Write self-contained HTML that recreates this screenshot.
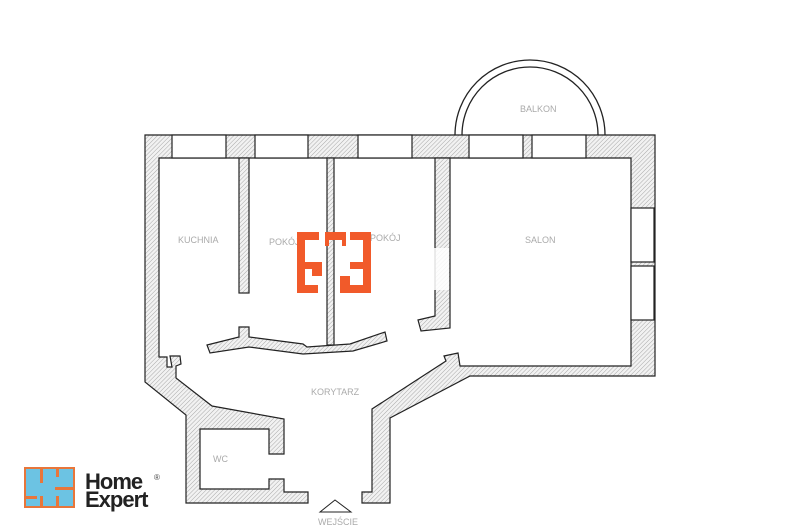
<!DOCTYPE html>
<html><head><meta charset="utf-8"><style>
html,body{margin:0;padding:0;background:#fff;}
svg{display:block}
text{font-family:"Liberation Sans",sans-serif;fill:#aaa;font-size:9px}
</style></head><body>
<svg width="800" height="526" viewBox="0 0 800 526" xmlns="http://www.w3.org/2000/svg">
<defs>
<pattern id="h" width="3" height="3" patternUnits="userSpaceOnUse" patternTransform="rotate(45)">
<rect width="3" height="3" fill="#f2f2f2"/>
<line x1="0" y1="0" x2="0" y2="3" stroke="#a8a8a8" stroke-width="1"/>
</pattern>
</defs>
<rect width="800" height="526" fill="#fff"/>
<path d="M455,135 A75,75 0 0 1 605,135" fill="none" stroke="#222" stroke-width="1.3"/>
<path d="M462,135 A68,68 0 0 1 598,135" fill="none" stroke="#222" stroke-width="1.3"/>
<path d="M308,503 L186,503 L186,415 L145,382 L145,135 L655,135 L655,376 L470,376 L390,418 L390,503 L362,503 L362,492 L372,492 L372,409 L446,361 L444,356 L458,353 L460,366 L631,366 L631,158 L159,158 L159,357 L167,357 L167,367 L172,367 L170,356 L180,356 L181,364 L176,366 L176,378 L212,406 L284,419 L284,454 L269,454 L269,429 L200,429 L200,489 L269,489 L269,479 L284,479 L284,492 L308,492 Z" fill="url(#h)" stroke="#222" stroke-width="1.2"/>
<rect x="239" y="158" width="10" height="135" fill="url(#h)" stroke="#222" stroke-width="1.2"/>
<rect x="327" y="158" width="7" height="187" fill="url(#h)" stroke="#222" stroke-width="1.2"/>
<path d="M435,158 L450,158 L450,328 L421,331 L418,320 L435,316 Z" fill="url(#h)" stroke="#222" stroke-width="1.2"/>
<path d="M207,345 L239,337 L239,327 L249,327 L249,337 L303,344 L307,347 L350,344 L385,332 L387,341 L353,351 L303,354 L249,347 L210,353 Z" fill="url(#h)" stroke="#222" stroke-width="1.2"/>
<g fill="#fff" stroke="#222" stroke-width="1.2">
<rect x="172" y="135" width="54" height="23"/>
<rect x="255" y="135" width="53" height="23"/>
<rect x="358" y="135" width="54" height="23"/>
<rect x="469" y="135" width="54" height="23"/>
<rect x="532" y="135" width="54" height="23"/>
<rect x="631" y="208" width="23" height="54"/>
<rect x="631" y="266" width="23" height="54"/>
</g>
<path d="M320,512 L335,500 L351,512 Z" fill="#fff" stroke="#222" stroke-width="1"/>
<text x="178" y="243">KUCHNIA</text>
<text x="269" y="245">POKÓJ</text>
<text x="370" y="241">POKÓJ</text>
<text x="525" y="243">SALON</text>
<text x="520" y="112">BALKON</text>
<text x="311" y="395">KORYTARZ</text>
<text x="213" y="462">WC</text>
<text x="318" y="525" font-size="8">WEJŚCIE</text>
<rect x="431" y="248" width="18" height="42" fill="#fff" opacity="0.85"/>
<g fill="#f15a2a">
<rect x="297" y="232" width="8" height="61"/>
<rect x="363" y="232" width="8" height="61"/>
<rect x="297" y="232" width="22" height="8"/>
<rect x="325" y="232" width="21" height="8"/>
<rect x="350" y="232" width="21" height="8"/>
<rect x="297" y="285" width="21" height="8"/>
<rect x="340" y="285" width="31" height="8"/>
<rect x="297" y="262" width="25" height="7"/>
<rect x="312" y="262" width="10" height="14"/>
<rect x="350" y="262" width="21" height="7"/>
<rect x="340" y="276" width="10" height="17"/>
<rect x="325" y="232" width="4" height="14"/>
<rect x="342" y="232" width="4" height="14"/>
</g>
<rect x="25" y="468" width="49" height="39" fill="#6cc3e3" stroke="#e8763a" stroke-width="2"/>
<g fill="#e8763a">
<rect x="40" y="467" width="3" height="16"/>
<rect x="56" y="467" width="3" height="10"/>
<rect x="25" y="496" width="12" height="3"/>
<rect x="55" y="487" width="19" height="3"/>
<rect x="40" y="496" width="3" height="12"/>
<rect x="56" y="496" width="3" height="12"/>
</g>
<text x="85" y="489" style="fill:#222;font-size:22px;font-weight:bold;letter-spacing:-1px">Home</text>
<text x="85" y="507" style="fill:#222;font-size:22px;font-weight:bold;letter-spacing:-1px">Expert</text>
<text x="154" y="480" style="fill:#444;font-size:8px">®</text>
</svg>
</body></html>
